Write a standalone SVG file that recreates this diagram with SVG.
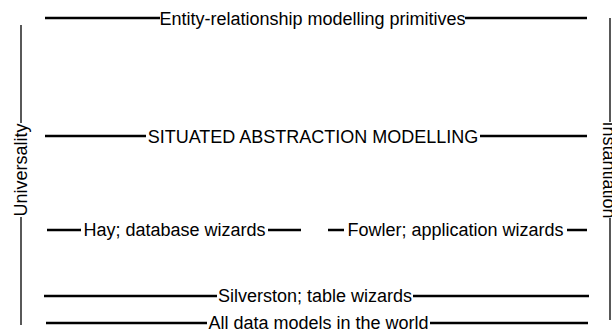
<svg xmlns="http://www.w3.org/2000/svg" width="612" height="329" viewBox="0 0 612 329">
<style>
text{font-family:"Liberation Sans",Arial,sans-serif;font-size:18px;fill:#000;}
.lvl{stroke:#000;stroke-width:2.7;fill:none;}
.axis{stroke:#000;stroke-width:1.3;fill:none;}
</style>
<rect width="612" height="329" fill="#fff"/>
<g id="connectors">
<path class="lvl" d="M45 18H160M465 18H587"/>
<path class="lvl" d="M45 136H146M480 136H587"/>
<path class="lvl" d="M47 230H81M268 230H301"/>
<path class="lvl" d="M328 230H344M567 230H587"/>
<path class="lvl" d="M44 296H217M413 296H589"/>
<path class="lvl" d="M46 323H207M430 323H588"/>
<path class="axis" d="M21 25V123M21 217V325"/>
<path class="axis" d="M610 18V122M610 218V320"/>
</g>
<g id="er-primitives"><text x="312.5" y="25" text-anchor="middle">Entity-relationship modelling primitives</text></g>
<g id="situated"><text x="313" y="143" text-anchor="middle">SITUATED ABSTRACTION MODELLING</text></g>
<g id="hay"><text x="174.5" y="236" text-anchor="middle">Hay; database wizards</text></g>
<g id="fowler"><text x="455.5" y="236" text-anchor="middle">Fowler; application wizards</text></g>
<g id="silverston"><text x="315" y="302" text-anchor="middle">Silverston; table wizards</text></g>
<g id="all-data"><text x="318.5" y="329" text-anchor="middle">All data models in the world</text></g>
<g id="universality"><text transform="translate(27 170) rotate(-90)" text-anchor="middle">Universality</text></g>
<g id="instantiation"><text transform="translate(603 170) rotate(90)" text-anchor="middle">Instantiation</text></g>
</svg>
